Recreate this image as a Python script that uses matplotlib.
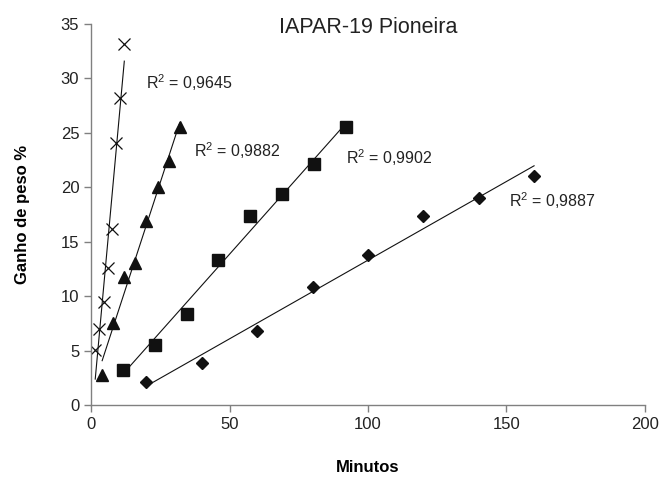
import numpy as np
import matplotlib.pyplot as plt

plt.rcParams['font.family'] = ['Liberation Sans', 'DejaVu Sans']
plt.rcParams['mathtext.fontset'] = 'custom'
plt.rcParams['mathtext.rm'] = 'Liberation Sans'
plt.rcParams['mathtext.it'] = 'Liberation Sans:italic'

# data
x_cross = [1.5, 3, 4.5, 6, 7.5, 9, 10.5, 12]
y_cross = [5.05, 7.0, 9.5, 12.6, 16.2, 24.1, 28.2, 33.2]

x_tri = [4, 8, 12, 16, 20, 24, 28, 32]
y_tri = [2.75, 7.55, 11.8, 13.0, 16.9, 20.0, 22.4, 25.5]

x_sq = [11.5, 23, 34.5, 46, 57.5, 69, 80.5, 92]
y_sq = [3.2, 5.5, 8.4, 13.3, 17.4, 19.4, 22.1, 25.5]

x_dia = [20, 40, 60, 80, 100, 120, 140, 160]
y_dia = [2.15, 3.85, 6.8, 10.85, 13.75, 17.4, 19.0, 21.05]

r2_labels = ['0,9645', '0,9882', '0,9902', '0,9887']
r2_pos = [(20.0, 29.6), (37.3, 23.4), (92.2, 22.7), (151.1, 18.8)]

fig = plt.figure(figsize=(6.6, 4.79), dpi=100)
ax = fig.add_axes([0.138, 0.1545, 0.839, 0.7955])

series = [
    (x_cross, y_cross, dict(marker='x', markersize=8, markeredgewidth=0.9)),
    (x_tri, y_tri, dict(marker='^', markersize=8)),
    (x_sq, y_sq, dict(marker='s', markersize=8.5)),
    (x_dia, y_dia, dict(marker='D', markersize=6.5)),
]

for xs, ys, style in series:
    xs = np.array(xs)
    ys = np.array(ys)
    ax.plot(xs, ys, linestyle='none', color='#111111', **style)
    # linear trendline
    k, b = np.polyfit(xs, ys, 1)
    ax.plot(xs[[0, -1]], k * xs[[0, -1]] + b, color='#111111', linewidth=0.8)

for lab, (tx, ty) in zip(r2_labels, r2_pos):
    ax.text(tx, ty, f'R$^2$ = {lab}', fontsize=11.5, va='center', ha='left',
            color='#222222')

ax.set_xlim(0, 200)
ax.set_ylim(0, 35)
ax.set_xticks([0, 50, 100, 150, 200])
ax.set_yticks([0, 5, 10, 15, 20, 25, 30, 35])

for side in ['top', 'right']:
    ax.spines[side].set_visible(False)
for side in ['left', 'bottom']:
    ax.spines[side].set_color('#808080')
    ax.spines[side].set_linewidth(1)

ax.tick_params(axis='both', colors='#808080', labelcolor='#222222',
               labelsize=12, length=5, width=1, direction='out')

ax.set_xlabel('Minutos', fontsize=12, fontweight='bold', labelpad=20)
ax.set_ylabel('Ganho de peso %', fontsize=12, fontweight='bold', labelpad=22)

ax.set_title('IAPAR-19 Pioneira', fontsize=15.5, y=0.955, color='#222222')

fig.savefig('out.png', dpi=100)
